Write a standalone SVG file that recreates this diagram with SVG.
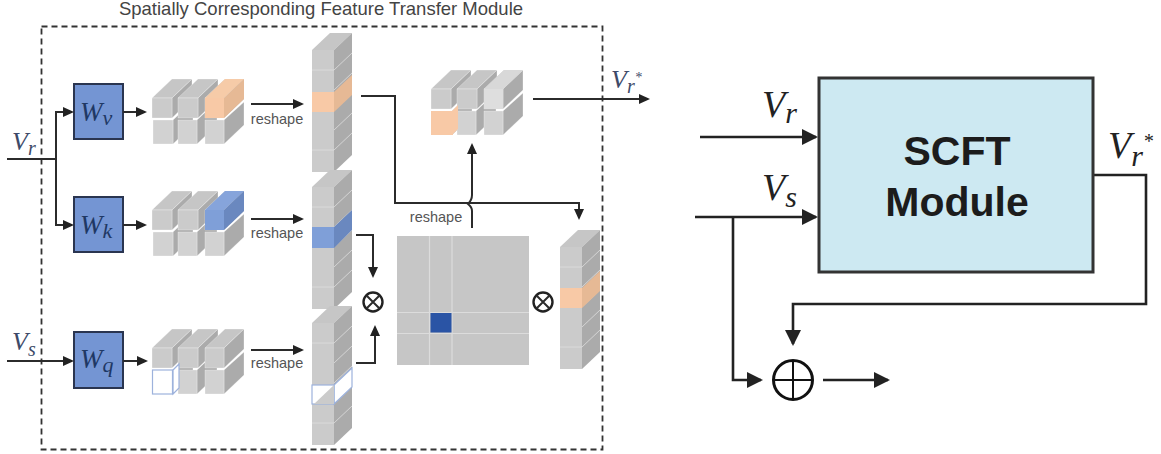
<svg xmlns="http://www.w3.org/2000/svg" width="1161" height="454" viewBox="0 0 1161 454">
<style>
.fr{fill:#cbcbcb}.fl{fill:#d2d2d2}.tp{fill:#c6c6c6}.sd{fill:#ababab}
.blk polygon,.blk rect{stroke:#fff;stroke-width:.3}
.ofr{fill:#f8c9a6}.otp{fill:#f6cba8}.osd{fill:#e6b995}
.bfr{fill:#7f9fd8}.btp{fill:#86a4db}.bsd{fill:#6a88bf}
.sep{stroke:#dedede;stroke-width:.8;fill:none}
.line{fill:none;stroke:#2b2b2b;stroke-width:2}
.sm{marker-end:url(#a)}
.big{fill:none;stroke:#222;stroke-width:2.6;marker-end:url(#b)}
.wbox{fill:#7495d3;stroke:#2a3550;stroke-width:2}
.wt{font:italic 27px "Liberation Serif",serif;fill:#1f3864}
.wsub{font-size:22px}
.lab{font:italic 26px "Liberation Serif",serif;fill:#3d4a68}
.labsub{font-size:20px}
.labstar{font-size:14px}
.labr{font:italic 38px "Liberation Serif",serif;fill:#222}
.labrsub{font-size:30px}
.labrstar{font-size:20px}
.rs{font:14.5px "Liberation Sans",Arial,sans-serif;fill:#555;text-anchor:middle}
.title{font:18.5px "Liberation Sans",Arial,sans-serif;fill:#444;text-anchor:middle}
.mod{font:bold 41px "Liberation Sans",Arial,sans-serif;fill:#1c1c1c;text-anchor:middle}
.op{fill:#fff;stroke:#222;stroke-width:2.4}
</style>
<defs>
<marker id="a" markerUnits="userSpaceOnUse" markerWidth="12" markerHeight="12" refX="9" refY="6" orient="auto"><path d="M0,1 L11,6 L0,11 Z" fill="#222"/></marker>
<marker id="b" markerUnits="userSpaceOnUse" markerWidth="18" markerHeight="18" refX="14" refY="9" orient="auto"><path d="M0,1 L16,9 L0,17 Z" fill="#222"/></marker>
<g id="cluster" class="blk">
<polygon class="sd" points="173,120 193,101 193,125 173,144"/><rect class="fl" x="153" y="120" width="20" height="24"/>
<polygon class="sd" points="197,120 217,101 217,125 197,144"/><rect class="fl" x="178" y="120" width="19" height="24"/>
<polygon class="sd" points="224,120 244,102 244,125 224,144"/><rect class="fl" x="205" y="120" width="19" height="24"/>
<polygon class="tp" points="152,98 172,98 192,79 172,79"/><polygon class="sd" points="172,98 192,79 192,99 172,118"/><rect class="fr" x="152" y="98" width="20" height="20"/>
<polygon class="tp" points="178,98 198,98 218,79 198,79"/><polygon class="sd" points="198,98 218,79 218,99 198,118"/><rect class="fr" x="178" y="98" width="20" height="20"/>
<polygon class="tp" points="205,98 224,98 244,79 225,79"/><polygon class="sd" points="224,98 244,79 244,99 224,118"/><rect class="fr" x="205" y="98" width="19" height="20"/>
</g>
<g id="column">
<polygon class="tp" points="0,0 22,0 40,-17 18,-17"/><polygon class="sd" points="22,0 40,-17 40,105 22,122"/><rect class="fr" x="0" y="0" width="22" height="122"/>
<path class="sep" d="M0,20H22L40,3M22,40L40,23M22,60L40,43M22,80L40,63M0,100H22L40,83"/>
</g>
</defs>
<rect width="1161" height="454" fill="#fff"/>
<text class="title" x="321" y="15">Spatially Corresponding Feature Transfer Module</text>
<rect id="module-frame" x="41.500" y="26.500" width="561" height="423" fill="none" stroke="#333" stroke-width="1.800" stroke-dasharray="6 4"/>

<g id="wv"><rect class="wbox" x="74" y="84" width="49" height="55"/><text class="wt" x="80" y="121">W<tspan class="wsub" dy="4">v</tspan></text></g>
<g id="wk"><rect class="wbox" x="74" y="197" width="49" height="55"/><text class="wt" x="80" y="234">W<tspan class="wsub" dy="4">k</tspan></text></g>
<g id="wq"><rect class="wbox" x="74" y="332" width="49" height="56"/><text class="wt" x="80" y="368">W<tspan class="wsub" dy="4">q</tspan></text></g>

<g id="cluster-v"><use href="#cluster"/><polygon class="otp" points="205,98 224,98 244,79 225,79"/><polygon class="osd" points="224,98 244,79 244,99 224,118"/><rect class="ofr" x="205" y="98" width="19" height="20"/></g>
<g id="cluster-k" transform="translate(0,112)"><use href="#cluster"/><polygon class="btp" points="205,98 224,98 244,79 225,79"/><polygon class="bsd" points="224,98 244,79 244,99 224,118"/><rect class="bfr" x="205" y="98" width="19" height="20"/></g>
<g id="cluster-q" transform="translate(0,250)"><use href="#cluster"/><polygon points="173,120 179,114 179,138 173,144" fill="#fff" stroke="#9db2dc" stroke-width="1.200"/><rect x="152.500" y="120" width="20" height="24" fill="#fff" stroke="#9db2dc" stroke-width="1.200"/></g>
<g id="cluster-out" transform="translate(279,-9)"><use href="#cluster"/><polygon points="173,120 179,114 179,138 173,144" class="ofr"/><rect class="ofr" x="152" y="120" width="22" height="24"/><rect x="205" y="98" width="19" height="20" fill="#dedede"/><polygon points="205,98 224,98 244,79 225,79" fill="#d8d8d8"/></g>

<g id="col-v" transform="translate(312,50)"><use href="#column"/><polygon class="osd" points="22,42 40,25 40,45 22,62"/><rect class="ofr" y="42" width="22" height="20"/></g>
<g id="col-k" transform="translate(312,187)"><use href="#column"/><polygon class="bsd" points="22,40 40,23 40,43 22,61"/><rect class="bfr" y="40" width="22" height="21"/></g>
<g id="col-q" transform="translate(312,323)"><use href="#column"/><polygon points="22,81 40,64 40,45 22,62" fill="#fff" stroke="#9db2dc" stroke-width="1.200"/><rect x="0" y="62" width="22" height="19" fill="#fff" stroke="#9db2dc" stroke-width="1.200"/><polygon points="22,62 22,81 2,81" fill="#cbcbcb"/></g>
<g id="col-out" transform="translate(560,247)"><use href="#column"/><polygon class="osd" points="22,41 40,24 40,44 22,61"/><rect class="ofr" y="41" width="22" height="20"/></g>

<g id="matrix"><rect x="397" y="236" width="132" height="129" fill="#c6c6c6"/><path d="M429.500,236V365M452,236V365M397,312.500H529M397,333.500H529" stroke="#dcdcdc" stroke-width="1.200" fill="none"/><rect x="430.500" y="313" width="21" height="19.500" fill="#2a54a5"/></g>

<g id="mul-1"><circle class="op" cx="373" cy="302" r="9.500"/><path class="line" d="M366.500,295.500L379.500,308.500M379.500,295.500L366.500,308.500"/></g>
<g id="mul-2"><circle class="op" cx="543" cy="302" r="9.500"/><path class="line" d="M536.500,295.500L549.500,308.500M549.500,295.500L536.500,308.500"/></g>

<g id="connectors">
<path class="line sm" d="M7,159H56V112H72"/>
<path class="line sm" d="M56,159V225H72"/>
<path class="line sm" d="M123,112H145"/>
<path class="line sm" d="M123,225H145"/>
<path class="line sm" d="M7,361H72"/>
<path class="line sm" d="M123,361H146"/>
<path class="line sm" d="M251,104H302"/>
<path class="line sm" d="M251,219H302"/>
<path class="line sm" d="M251,350H302"/>
<path class="line sm" d="M361,96H395V203H579V218"/>
<path class="line sm" d="M472,228V211Q472,207 468,204Q472,200 472,195V145"/>
<path class="line sm" d="M533,99H648"/>
<path class="line sm" d="M356,235H373V276"/>
<path class="line sm" d="M356,363H375V327"/>
<path class="big" d="M700,137H816"/>
<path class="big" d="M695,217H816"/>
<path class="big" d="M733,217V380H761"/>
<path class="big" d="M823,380H888"/>
<path class="big" d="M1093,175H1146V304H793V344"/>
</g>

<g id="scft"><rect x="819" y="78" width="274" height="194" fill="#cde9f2" stroke="#333" stroke-width="3"/><text class="mod" x="957" y="165">SCFT</text><text class="mod" x="957" y="216">Module</text></g>
<g id="add"><circle cx="793" cy="380" r="19.500" fill="none" stroke="#111" stroke-width="3"/><path d="M773,380H813M793,360V400" fill="none" stroke="#111" stroke-width="2"/></g>

<text id="l-vr" class="lab" x="12" y="150">V<tspan class="labsub" dy="5">r</tspan></text>
<text id="l-vs" class="lab" x="12" y="350">V<tspan class="labsub" dy="6">s</tspan></text>
<text id="l-vrs" class="lab" x="611" y="88">V<tspan class="labsub" dy="5">r</tspan><tspan class="labstar" dy="-11">*</tspan></text>
<text class="rs" x="277" y="124">reshape</text>
<text class="rs" x="277" y="238">reshape</text>
<text class="rs" x="277" y="368">reshape</text>
<text class="rs" x="436" y="222">reshape</text>
<text id="r-vr" class="labr" x="762" y="117">V<tspan class="labrsub" dy="6">r</tspan></text>
<text id="r-vs" class="labr" x="762" y="200">V<tspan class="labrsub" dy="7">s</tspan></text>
<text id="r-vrs" class="labr" x="1108" y="158">V<tspan class="labrsub" dy="8">r</tspan><tspan class="labrstar" dy="-18">*</tspan></text>
</svg>
